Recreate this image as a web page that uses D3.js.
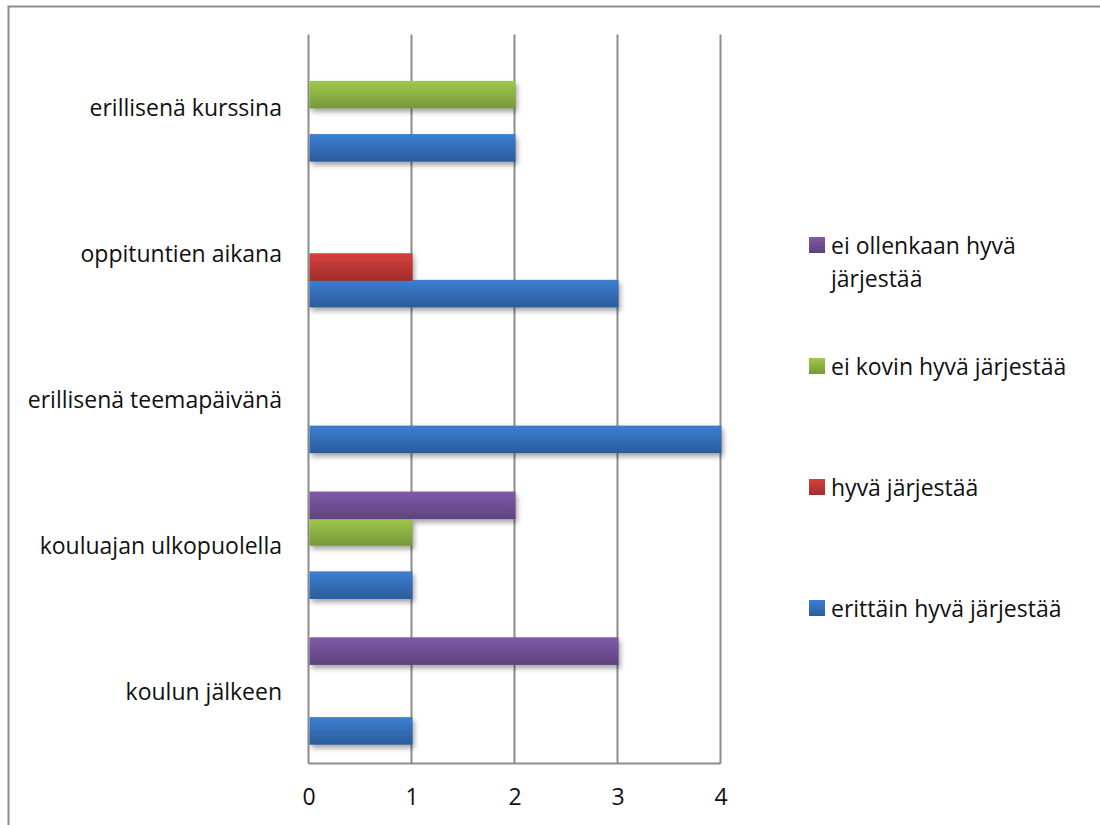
<!DOCTYPE html>
<html>
<head>
<meta charset="utf-8">
<script src="https://cdn.jsdelivr.net/npm/d3@7"></script>
<style>
  html, body { margin: 0; padding: 0; background: #fff; }
  svg { display: block; }
  text { font-family: "Open Sans", Lato, sans-serif; fill: #111; }
</style>
</head>
<body>
<svg id="chart" width="1100" height="825"></svg>
<script>
// Categories (top to bottom as drawn)
const categories = [
  "erillisenä kurssina",
  "oppituntien aikana",
  "erillisenä teemapäivänä",
  "kouluajan ulkopuolella",
  "koulun jälkeen"
];

// Series names
const seriesNames = [
  "erittäin hyvä järjestää",
  "hyvä järjestää",
  "ei kovin hyvä järjestää",
  "ei ollenkaan hyvä järjestää"
];

// Values per series, in the same order as categories
const erittainHyva    = [2, 3, 4, 1, 1];
const hyva            = [0, 1, 0, 0, 0];
const eiKovinHyva     = [2, 0, 0, 1, 0];
const eiOllenkaanHyva = [0, 0, 0, 2, 3];

const xTicks = [0, 1, 2, 3, 4];

const seriesValues = [erittainHyva, hyva, eiKovinHyva, eiOllenkaanHyva];
const seriesColors = [
  ["#3c7fd2", "#2b5c9b"],
  ["#d6403c", "#a02e2b"],
  ["#a0c94b", "#76983a"],
  ["#8159a9", "#5e427e"]
];

const FONT_SIZE = "23px";

const svg = d3.select("#chart");
const defs = svg.append("defs");

// vertical gradients for bar fills
seriesColors.forEach((c, i) => {
  const g = defs.append("linearGradient")
    .attr("id", "grad" + i)
    .attr("x1", 0).attr("y1", 0).attr("x2", 0).attr("y2", 1);
  g.append("stop").attr("offset", "0%").attr("stop-color", c[0]);
  g.append("stop").attr("offset", "100%").attr("stop-color", c[1]);
});

// soft drop shadow under bars
const f = defs.append("filter").attr("id", "shadow")
  .attr("x", "-5%").attr("y", "-30%").attr("width", "115%").attr("height", "190%");
f.append("feDropShadow").attr("dx", 2).attr("dy", 3.5)
  .attr("stdDeviation", 2.5).attr("flood-color", "#000").attr("flood-opacity", 0.35);

// outer frame (only top and left edges fall inside the view)
svg.append("rect")
  .attr("x", 8.5).attr("y", 6.5)
  .attr("width", 1200).attr("height", 1000)
  .attr("fill", "none").attr("stroke", "#8c8c8c").attr("stroke-width", 2);

const plot = { left: 308.5, right: 720.5, top: 34.6, bottom: 763.4 };

const x = d3.scaleLinear().domain([0, 4]).range([plot.left, plot.right]);
const y = d3.scaleBand().domain(categories)
  .range([plot.top, plot.bottom])
  .paddingInner(0.27).paddingOuter(0.135);
// within a group: last series on top, first at the bottom
const ySeries = d3.scaleBand()
  .domain(d3.range(seriesNames.length).reverse())
  .range([0, y.bandwidth()]);

// vertical gridlines
svg.append("g").selectAll("line")
  .data(xTicks)
  .join("line")
  .attr("x1", d => x(d)).attr("x2", d => x(d))
  .attr("y1", plot.top).attr("y2", plot.bottom)
  .attr("stroke", "#8c8c8c").attr("stroke-width", 2);

// bottom axis line
svg.append("line")
  .attr("x1", plot.left).attr("x2", plot.right)
  .attr("y1", plot.bottom).attr("y2", plot.bottom)
  .attr("stroke", "#8c8c8c").attr("stroke-width", 2);

// x tick labels
const xAxis = d3.axisBottom(x).tickValues(xTicks).tickSize(0).tickPadding(0)
  .tickFormat(d3.format("d"));
const gx = svg.append("g").attr("transform", `translate(0,${plot.bottom})`).call(xAxis);
gx.select(".domain").remove();
gx.selectAll("text")
  .attr("dy", null).attr("y", 42)
  .style("font-family", "'Open Sans', Lato, sans-serif")
  .style("font-size", FONT_SIZE).style("fill", "#111");

// category labels
svg.append("g").selectAll("text")
  .data(categories)
  .join("text")
  .attr("x", 282)
  .attr("y", d => y(d) + y.bandwidth() / 2)
  .attr("text-anchor", "end")
  .attr("dominant-baseline", "central")
  .style("font-size", FONT_SIZE)
  .text(d => d);

// bars
const bars = [];
categories.forEach((c, ci) => {
  seriesValues.forEach((vals, si) => {
    bars.push({ cat: c, s: si, v: vals[ci] });
  });
});

svg.append("g").attr("filter", "url(#shadow)")
  .selectAll("rect")
  .data(bars.filter(b => b.v > 0))
  .join("rect")
  .attr("x", x(0) + 1)
  .attr("y", d => y(d.cat) + ySeries(d.s))
  .attr("width", d => x(d.v) - x(0))
  .attr("height", ySeries.bandwidth() + 1)
  .attr("fill", d => `url(#grad${d.s})`);

// legend (last series first)
const legendOrder = [3, 2, 1, 0];
const legend = svg.append("g");
const wrapWidth = 255;
legendOrder.forEach((si, i) => {
  const cy = 245 + i * 121;
  legend.append("rect")
    .attr("x", 809).attr("y", cy - 8)
    .attr("width", 16).attr("height", 16)
    .attr("fill", `url(#grad${si})`);
  const t = legend.append("text")
    .attr("x", 831).attr("y", cy)
    .attr("dominant-baseline", "central")
    .style("font-size", FONT_SIZE);
  // simple word wrap
  const words = seriesNames[si].split(" ");
  let line = [];
  let tspan = t.append("tspan").attr("x", 831).attr("dy", 0);
  words.forEach(w => {
    line.push(w);
    tspan.text(line.join(" "));
    if (tspan.node().getComputedTextLength() > wrapWidth && line.length > 1) {
      line.pop();
      tspan.text(line.join(" "));
      line = [w];
      tspan = t.append("tspan").attr("x", 831).attr("dy", 33).text(w);
    }
  });
});
</script>
</body>
</html>
